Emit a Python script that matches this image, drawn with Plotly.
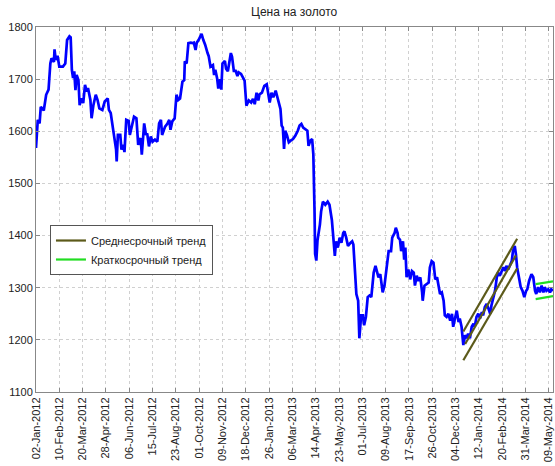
import pandas as pd
import plotly.graph_objects as go

START_DATE = "2012-01-02"

# Gold price: days since START_DATE and price, USD per ounce.
DAYS = [
    0, 3, 6, 8, 13, 17, 21, 24, 26, 30, 31, 33, 36, 39, 45, 49, 52, 56, 58, 60,
    62, 64, 66, 68, 71, 73, 76, 79, 82, 85, 87, 91, 93, 96, 100, 103, 106, 111, 115, 120,
    122, 125, 130, 134, 135, 137, 141, 143, 146, 148, 151, 155, 157, 160, 164, 168, 171, 175, 177, 181,
    184, 186, 189, 192, 195, 199, 203, 206, 209, 211, 216, 220, 223, 225, 228, 232, 235, 238, 241, 245,
    248, 249, 252, 255, 259, 262, 264, 267, 269, 272, 274, 277, 280, 283, 287, 289, 292, 296, 298, 300,
    303, 305, 308, 310, 312, 316, 318, 321, 326, 328, 331, 334, 337, 339, 343, 347, 349, 352, 356, 360,
    363, 366, 369, 372, 374, 378, 382, 386, 388, 391, 394, 397, 401, 403, 406, 409, 411, 413, 415, 417,
    420, 423, 426, 430, 434, 438, 441, 444, 447, 451, 454, 456, 459, 462, 464, 466, 467, 469, 471, 475,
    477, 480, 484, 488, 491, 495, 498, 500, 502, 505, 508, 511, 514, 516, 519, 522, 526, 529, 531, 534,
    536, 539, 541, 544, 547, 549, 552, 555, 558, 561, 565, 568, 570, 573, 576, 580, 583, 586, 590, 594,
    596, 600, 602, 605, 606, 609, 611, 614, 616, 618, 620, 623, 626, 629, 632, 634, 637, 640, 643, 646,
    647, 650, 654, 657, 659, 662, 665, 668, 671, 673, 676, 679, 682, 684, 687, 690, 693, 696, 698, 701,
    704, 707, 709, 712, 715, 718, 721, 723, 726, 729, 732, 734, 737, 740, 743, 746, 748, 751, 754, 757,
    760, 762, 765, 768, 771, 773, 776, 779, 782, 785, 787, 790, 793, 796, 798, 801, 803, 805, 808, 811,
    814, 817, 820, 822, 825, 829, 832, 835, 837, 840, 843, 846, 849, 851, 854, 857, 860, 862, 865,
]
PRICE = [
    1568, 1622, 1615, 1647, 1640, 1670, 1680, 1730, 1740, 1733, 1757, 1737, 1745, 1724, 1724, 1730, 1775, 1782, 1780, 1718,
    1702, 1715, 1679, 1708, 1698, 1650, 1663, 1654, 1689, 1676, 1683, 1660, 1625, 1650, 1670, 1660, 1644, 1641, 1657, 1663,
    1641, 1635, 1596, 1565, 1542, 1593, 1593, 1565, 1574, 1560, 1622, 1620, 1593, 1609, 1628, 1625, 1574, 1587, 1555, 1615,
    1593, 1596, 1571, 1590, 1580, 1584, 1580, 1615, 1622, 1593, 1609, 1615, 1622, 1603, 1619, 1625, 1670, 1660, 1663, 1695,
    1698, 1734, 1730, 1769, 1770, 1769, 1770, 1756, 1770, 1775, 1781, 1787, 1775, 1766, 1750, 1744, 1724, 1727, 1708, 1718,
    1702, 1682, 1700, 1680, 1730, 1735, 1720, 1715, 1750, 1743, 1716, 1716, 1706, 1713, 1710, 1700, 1697, 1649, 1659, 1655,
    1662, 1652, 1674, 1659, 1671, 1674, 1687, 1690, 1674, 1655, 1674, 1665, 1678, 1668, 1652, 1643, 1611, 1607, 1566, 1601,
    1592, 1579, 1582, 1585, 1592, 1601, 1611, 1614, 1607, 1604, 1601, 1572, 1582, 1585, 1556, 1448, 1365, 1352, 1391, 1421,
    1446, 1465, 1459, 1465, 1459, 1430, 1396, 1361, 1389, 1377, 1396, 1386, 1405, 1408, 1396, 1380, 1386, 1389, 1383, 1320,
    1288, 1275, 1203, 1247, 1247, 1228, 1244, 1282, 1285, 1282, 1329, 1342, 1332, 1320, 1326, 1291, 1304, 1335, 1370, 1370,
    1396, 1405, 1415, 1405, 1396, 1392, 1370, 1389, 1354, 1377, 1320, 1335, 1316, 1332, 1329, 1304, 1323, 1313, 1320, 1291,
    1275, 1304, 1307, 1310, 1339, 1351, 1348, 1316, 1320, 1304, 1288, 1291, 1275, 1247, 1244, 1250, 1237, 1250, 1225, 1241,
    1256, 1234, 1241, 1225, 1190, 1209, 1203, 1212, 1203, 1225, 1231, 1225, 1244, 1250, 1241, 1253, 1247, 1263, 1269, 1260,
    1250, 1266, 1282, 1294, 1320, 1329, 1323, 1332, 1339, 1332, 1342, 1335, 1345, 1351, 1370, 1380, 1364, 1339, 1320, 1301,
    1294, 1282, 1294, 1297, 1313, 1326, 1320, 1294, 1288, 1301, 1291, 1304, 1291, 1301, 1294, 1297, 1291, 1297, 1294,
]

# Medium-term trend channel (three parallel lines): start/end day and price.
MID_TREND_DAYS = [[715, 805], [718, 803], [715, 805]]
MID_TREND_PRICE = [[1216, 1394], [1192, 1362], [1161, 1337]]

# Short-term trend channel.
SHORT_TREND_DAYS = [[836, 865], [836, 865]]
SHORT_TREND_PRICE = [[1307, 1312], [1278, 1284]]

TICK_LABELS = [
    "02-Jan-2012", "10-Feb-2012", "20-Mar-2012", "28-Apr-2012", "06-Jun-2012",
    "15-Jul-2012", "23-Aug-2012", "01-Oct-2012", "09-Nov-2012", "18-Dec-2012",
    "26-Jan-2013", "06-Mar-2013", "14-Apr-2013", "23-May-2013", "01-Jul-2013",
    "09-Aug-2013", "17-Sep-2013", "26-Oct-2013", "04-Dec-2013", "12-Jan-2014",
    "20-Feb-2014", "31-Mar-2014", "09-May-2014",
]

FONT = "Liberation Sans, Arial, Helvetica, sans-serif"
start = pd.Timestamp(START_DATE)


def to_dates(days):
    return start + pd.to_timedelta(days, unit="D")


def channel(days_list, price_list):
    # Join several segments into one trace, separated by gaps.
    xs, ys = [], []
    for d, p in zip(days_list, price_list):
        xs += list(to_dates(d)) + [None]
        ys += list(p) + [None]
    return xs, ys


fig = go.Figure()

fig.add_trace(
    go.Scatter(
        x=to_dates(DAYS),
        y=PRICE,
        mode="lines",
        line={"color": "#0000ff", "width": 2.7},
        showlegend=False,
        name="Цена",
    )
)

x_mid, y_mid = channel(MID_TREND_DAYS, MID_TREND_PRICE)
fig.add_trace(
    go.Scatter(
        x=x_mid,
        y=y_mid,
        mode="lines",
        line={"color": "#5c5a1a", "width": 2.2},
        name="Среднесрочный тренд",
    )
)

x_short, y_short = channel(SHORT_TREND_DAYS, SHORT_TREND_PRICE)
fig.add_trace(
    go.Scatter(
        x=x_short,
        y=y_short,
        mode="lines",
        line={"color": "#22dd22", "width": 2.2},
        name="Краткосрочный тренд",
    )
)

tick_dates = pd.to_datetime(TICK_LABELS, format="%d-%b-%Y")

fig.update_layout(
    width=555,
    height=466,
    margin={"l": 36, "r": 2, "t": 27, "b": 74},
    paper_bgcolor="white",
    plot_bgcolor="white",
    font={"family": FONT, "size": 11, "color": "#222222"},
    title={
        "text": "Цена на золото",
        "x": 0.53,
        "xanchor": "center",
        "y": 0.975,
        "yanchor": "middle",
        "font": {"size": 12, "color": "#222222"},
    },
    legend={
        "x": 0.027,
        "y": 0.4575,
        "xanchor": "left",
        "yanchor": "top",
        "bgcolor": "white",
        "bordercolor": "#555555",
        "borderwidth": 1,
        "font": {"size": 11},
        "tracegroupgap": 0,
    },
    showlegend=True,
)

fig.update_xaxes(
    type="date",
    range=[start, to_dates([865])[0]],
    tickvals=tick_dates,
    ticktext=TICK_LABELS,
    tickangle=-90,
    tickfont={"size": 11},
    ticks="inside",
    ticklen=4,
    tickcolor="#888888",
    showgrid=True,
    gridcolor="#d0d0d0",
    griddash="dot",
    gridwidth=1,
    showline=True,
    linecolor="#888888",
    linewidth=1,
    mirror="ticks",
    zeroline=False,
    automargin=False,
)

fig.update_yaxes(
    range=[1100, 1800],
    dtick=100,
    tickfont={"size": 11},
    ticks="inside",
    ticklen=4,
    tickcolor="#888888",
    showgrid=True,
    gridcolor="#d0d0d0",
    griddash="dot",
    gridwidth=1,
    showline=True,
    linecolor="#888888",
    linewidth=1,
    mirror="ticks",
    zeroline=False,
    automargin=False,
)

# Remove the default page margin so the figure sits at the window's corner.
fig.write_html(
    "out.html",
    config={"displayModeBar": False},
    post_script="document.body.style.margin = '0';",
)
